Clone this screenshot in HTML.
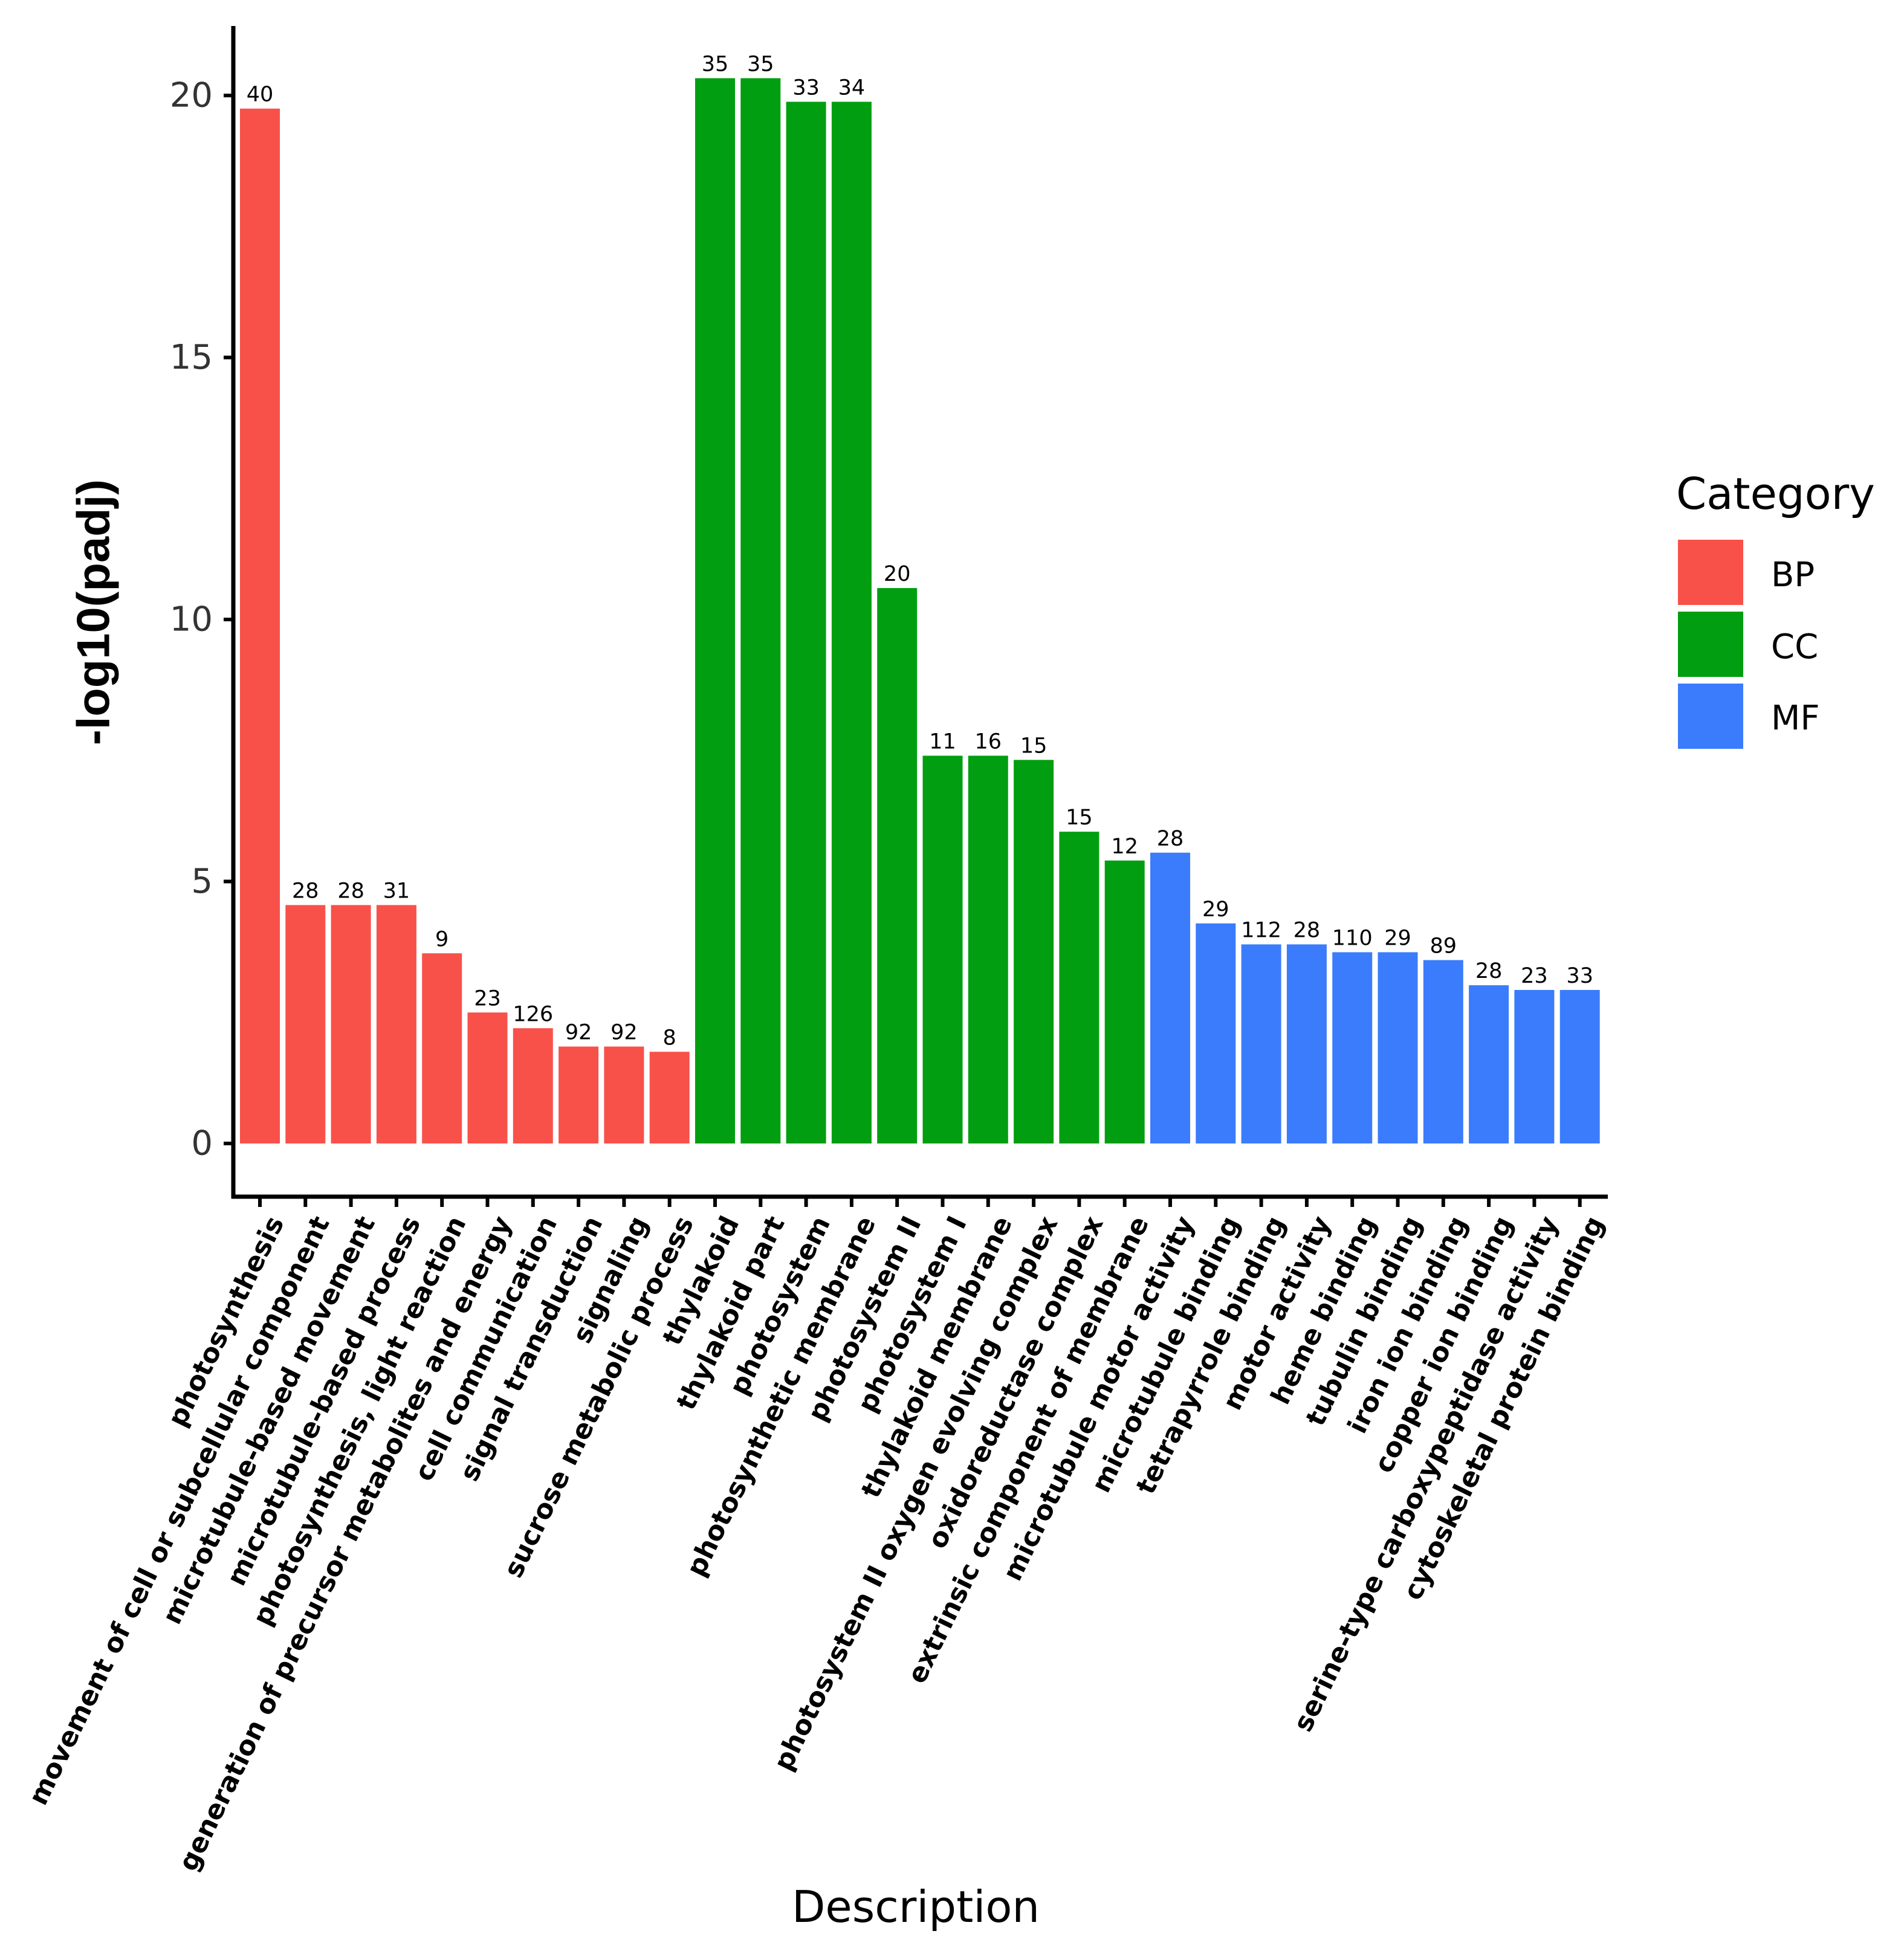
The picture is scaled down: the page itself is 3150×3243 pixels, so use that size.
<!DOCTYPE html>
<html><head><meta charset="utf-8"><style>
html,body{margin:0;padding:0;background:#fff;}
svg{display:block;}
</style></head><body>
<svg id="chart" width="3150" height="3243" viewBox="0 0 3150 3243" xmlns="http://www.w3.org/2000/svg" font-family="DejaVu Sans, Liberation Sans, sans-serif">
<rect width="3150" height="3243" fill="#fff"/>
<g id="plot"></g>
<text x="155" y="1013" transform="rotate(-90 155 1013)" text-anchor="middle" dominant-baseline="central" font-family="Liberation Sans, sans-serif" font-weight="bold" font-size="76" textLength="440" lengthAdjust="spacingAndGlyphs" fill="#000">-log10(padj)</text>
<text x="1515" y="3180" text-anchor="middle" font-size="72" fill="#000">Description</text>
<g>
<text x="2773" y="842" font-size="72" fill="#000">Category</text>
<g><rect x="2776" y="893" width="108" height="108" fill="#F8514A"/><text x="2930" y="970" font-size="56" fill="#000">BP</text></g>
<g><rect x="2776" y="1012" width="108" height="108" fill="#009E10"/><text x="2930" y="1089" font-size="56" fill="#000">CC</text></g>
<g><rect x="2776" y="1131" width="108" height="108" fill="#3A7CFC"/><text x="2930" y="1207" font-size="56" fill="#000">MF</text></g>
</g>
</svg>
<script>
const categories = ["photosynthesis","movement of cell or subcellular component","microtubule-based movement","microtubule-based process","photosynthesis, light reaction","generation of precursor metabolites and energy","cell communication","signal transduction","signaling","sucrose metabolic process","thylakoid","thylakoid part","photosystem","photosynthetic membrane","photosystem II","photosystem I","thylakoid membrane","photosystem II oxygen evolving complex","oxidoreductase complex","extrinsic component of membrane","microtubule motor activity","microtubule binding","tetrapyrrole binding","motor activity","heme binding","tubulin binding","iron ion binding","copper ion binding","serine-type carboxypeptidase activity","cytoskeletal protein binding"];
const groups = ["BP","BP","BP","BP","BP","BP","BP","BP","BP","BP","CC","CC","CC","CC","CC","CC","CC","CC","CC","CC","MF","MF","MF","MF","MF","MF","MF","MF","MF","MF"];
const values = [19.75,4.55,4.55,4.55,3.63,2.5,2.2,1.85,1.85,1.75,20.33,20.33,19.88,19.88,10.6,7.4,7.4,7.32,5.95,5.4,5.55,4.2,3.8,3.8,3.65,3.65,3.5,3.02,2.93,2.93];
const counts = [40,28,28,31,9,23,126,92,92,8,35,35,33,34,20,11,16,15,15,12,28,29,112,28,110,29,89,28,23,33];
const yTicks = [0,5,10,15,20];
const colors = {BP:"#F8514A",CC:"#009E10",MF:"#3A7CFC"};

const NS="http://www.w3.org/2000/svg";
const plot=document.getElementById('plot');
const x0=430, step=75.3, barW=66;
const y0=1892, unit=86.7;
const xs=i=>x0+i*step;
const ys=v=>y0-v*unit;
function mk(tag,attrs,parent){const e=document.createElementNS(NS,tag);for(const k in attrs)e.setAttribute(k,attrs[k]);(parent||plot).appendChild(e);return e;}

values.forEach((v,i)=>{
  const r=mk('rect',{x:xs(i)-barW/2,y:ys(v),width:barW,height:v*unit,fill:colors[groups[i]]});
  
  
  const t=mk('text',{x:xs(i),y:ys(v)-12,'text-anchor':'middle','font-size':35,fill:'#000'});
  t.textContent=counts[i];
  
  
  const tk=mk('line',{x1:xs(i),x2:xs(i),y1:1980,y2:1997,stroke:'#000','stroke-width':6});
  
  
  const lx=xs(i)+12, ly=2008;
  const lt=mk('text',{x:lx,y:ly,'text-anchor':'end','font-size':44,'font-weight':'bold',fill:'#000',dy:'0.72em',transform:`rotate(-64 ${lx} ${ly})`});
  lt.textContent=categories[i];
  
  
});
yTicks.forEach(v=>{
  const tk=mk('line',{x1:370,x2:386,y1:ys(v),y2:ys(v),stroke:'#000','stroke-width':6});
  
  
  const t=mk('text',{x:352,y:ys(v),'text-anchor':'end','dominant-baseline':'central','font-size':56,fill:'#333'});
  t.textContent=v;
  
  
});
const ya=mk('line',{x1:386,x2:386,y1:43,y2:1983,stroke:'#000','stroke-width':7});


const xa=mk('line',{x1:383,x2:2660,y1:1980,y2:1980,stroke:'#000','stroke-width':7});


</script>
</body></html>
